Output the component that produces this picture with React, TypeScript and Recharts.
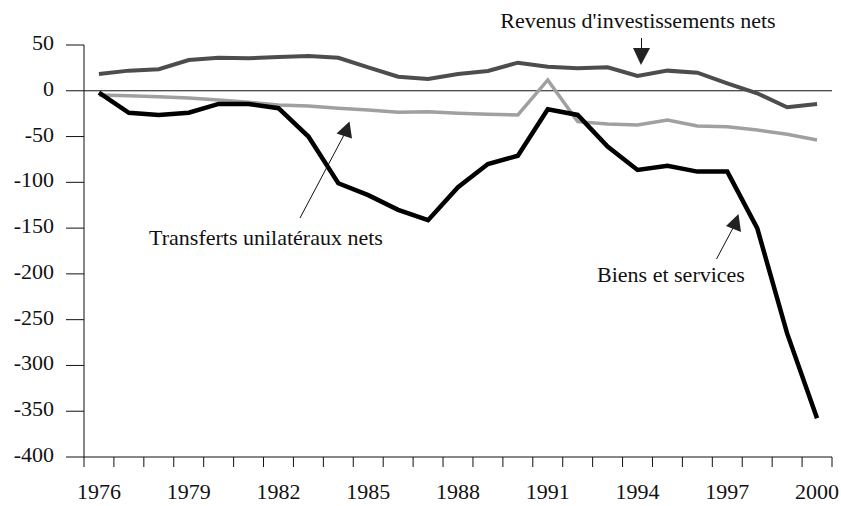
import { Customized, Line, LineChart, ReferenceLine, XAxis, YAxis } from "recharts";

const years = [
  1976, 1977, 1978, 1979, 1980, 1981, 1982, 1983, 1984, 1985, 1986, 1987, 1988,
  1989, 1990, 1991, 1992, 1993, 1994, 1995, 1996, 1997, 1998, 1999, 2000,
];

// Biens et services
const goods = [
  -2, -24, -26.4, -24, -14.4, -14.4, -19, -50, -101, -114, -130, -141.4, -105.4,
  -80, -71, -20.2, -26.4, -61, -86.5, -82, -88.3, -88.3, -150, -265, -357.7,
];

// Revenus d'investissements nets
const income = [
  18.3, 22, 23.5, 33.6, 36, 35.5, 37, 38, 36, 25.6, 15.4, 12.9, 18.3, 21.6,
  30.7, 26.3, 24.6, 25.7, 16.2, 22, 19.8, 8.2, -2.7, -18, -14.4,
];

// Transferts unilatéraux nets
const transfers = [
  -4.6, -5.3, -6.4, -8, -10, -12.6, -15.5, -16.6, -19, -21, -23.5, -22.8, -24.6,
  -25.7, -26.4, 11.8, -33.7, -36.3, -37.4, -32, -38.5, -39.2, -42.8, -47.5, -53.7,
];

const yTicks = [-400, -350, -300, -250, -200, -150, -100, -50, 0, 50];
const yearLabels = [1976, 1979, 1982, 1985, 1988, 1991, 1994, 1997, 2000];
// tick marks sit on the boundaries between years
const yearBounds = [...years.map((y) => y - 0.5), 2000.5];

const data = years.map((year, i) => ({
  year,
  goods: goods[i],
  income: income[i],
  transfers: transfers[i],
}));

const font = "'Liberation Serif', 'DejaVu Serif', serif";

function YearTick(props: any) {
  const { x, y, payload, width } = props;
  const year = payload.value + 0.5;
  if (!yearLabels.includes(year)) return null;
  const half = (width || 748) / years.length / 2;
  return (
    <text x={x + half} y={y + 30} textAnchor="middle" fill="#111" fontSize={22} fontFamily={font}>
      {year}
    </text>
  );
}

function ValueTick(props: any) {
  const { x, y, payload } = props;
  return (
    <text x={x} y={y + 5} textAnchor="end" fill="#111" fontSize={22} fontFamily={font}>
      {payload.value}
    </text>
  );
}

function Annotations() {
  return (
    <g fontSize={22} fill="#111" fontFamily={font}>
      <text x={638} y={28} textAnchor="middle">Revenus d'investissements nets</text>
      <line x1={641.5} y1={38} x2={641.5} y2={50} stroke="#111" strokeWidth={1} />
      <polygon points="633,48 650,48 641,65" fill="#222" />

      <text x={266} y={245} textAnchor="middle">Transferts unilatéraux nets</text>
      <line x1={300} y1={218} x2={344} y2={135} stroke="#111" strokeWidth={1} />
      <polygon points="336.5,133.5 349.5,121.5 352,138.5" fill="#222" />

      <text x={671} y={282} textAnchor="middle">Biens et services</text>
      <line x1={716.5} y1={259} x2={733} y2={228} stroke="#111" strokeWidth={1} />
      <polygon points="726,226 738.5,214 741,232" fill="#222" />
    </g>
  );
}

export default function App() {
  return (
    <div style={{ position: "absolute", left: 0, top: 0, background: "#fff", fontFamily: font }}>
      <LineChart
        width={841}
        height={506}
        data={data}
        margin={{ top: 45, right: 9, bottom: 0, left: 0 }}
      >
        <XAxis
          dataKey="year"
          type="number"
          domain={[1975.5, 2000.5]}
          ticks={yearBounds}
          interval={0}
          tickSize={10}
          tickLine={{ stroke: "#111" }}
          axisLine={{ stroke: "#111" }}
          tick={<YearTick />}
          height={49}
        />
        <YAxis
          domain={[-400, 50]}
          ticks={yTicks}
          interval={0}
          width={84}
          tickSize={18}
          tickMargin={12}
          axisLine={{ stroke: "#111" }}
          tickLine={{ stroke: "#111" }}
          tick={<ValueTick />}
        />
        <ReferenceLine y={0} stroke="#111" strokeWidth={1} />
        <Line
          dataKey="transfers"
          stroke="#a0a0a0"
          strokeWidth={3.5}
          dot={false}
          isAnimationActive={false}
        />
        <Line
          dataKey="income"
          stroke="#4d4d4d"
          strokeWidth={4}
          dot={false}
          isAnimationActive={false}
        />
        <Line
          dataKey="goods"
          stroke="#000"
          strokeWidth={4.5}
          dot={false}
          isAnimationActive={false}
        />
        <Customized component={Annotations} />
      </LineChart>
    </div>
  );
}
